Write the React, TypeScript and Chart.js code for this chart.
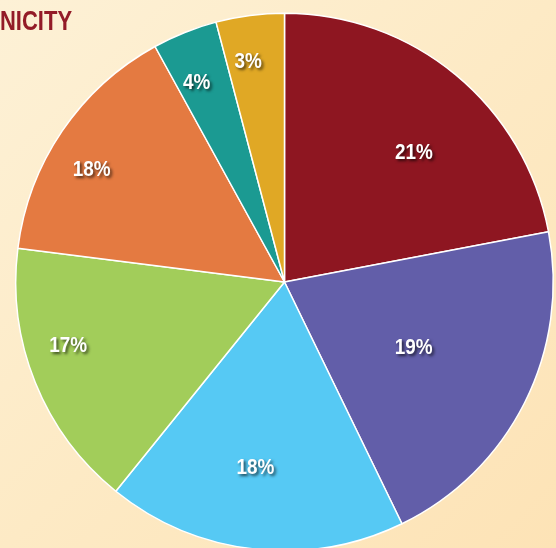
import React, { useEffect, useRef } from "react";
import { Chart, registerables } from "chart.js";

Chart.register(...registerables);

const categories = ["Group A", "Group B", "Group C", "Group D", "Group E", "Group F", "Group G"];
const sliceValues = [22.0, 20.8, 18.0, 16.2, 15.0, 3.9, 4.1];
const sliceLabels = ["21%", "19%", "18%", "17%", "18%", "4%", "3%"];
const sliceColors = ["#8e1621", "#625ea9", "#56c9f4", "#a2cd5a", "#e47a41", "#1b9a92", "#e0a825"];
const titleText = "NICITY";

// label placement style: radial fraction and angular offset (deg)
const labelRadius = [0.68, 0.54, 0.7, 0.84, 0.83, 0.81, 0.83];
const labelAngleOffset = [5.5, 0.5, 2.4, 5.4, -4, -2, -2];

const labelPlugin = {
  id: "sliceLabels",
  afterDatasetsDraw(chart: any) {
    const ctx = chart.ctx;
    const meta = chart.getDatasetMeta(0);
    ctx.save();
    ctx.font = "bold 21.5px 'Liberation Sans', Arial, sans-serif";
    ctx.textAlign = "center";
    ctx.textBaseline = "middle";
    meta.data.forEach((arc: any, i: number) => {
      const p = arc.getProps(["x", "y", "startAngle", "endAngle", "outerRadius"], true);
      const a = (p.startAngle + p.endAngle) / 2 + (labelAngleOffset[i] * Math.PI) / 180;
      const r = p.outerRadius * labelRadius[i];
      const x = p.x + Math.cos(a) * r;
      const y = p.y + Math.sin(a) * r;
      ctx.save();
      ctx.translate(x, y);
      ctx.scale(0.88, 1);
      ctx.shadowColor = "rgba(0,0,0,0.65)";
      ctx.shadowOffsetX = 2;
      ctx.shadowOffsetY = 2;
      ctx.shadowBlur = 3;
      ctx.fillStyle = "#ffffff";
      ctx.fillText(sliceLabels[i], 0, 0);
      ctx.restore();
    });
    ctx.restore();
  },
};

export default function App() {
  const ref = useRef<HTMLCanvasElement>(null);
  useEffect(() => {
    if (!ref.current) return;
    const chart = new Chart(ref.current, {
      type: "pie",
      data: {
        labels: categories,
        datasets: [
          {
            data: sliceValues,
            backgroundColor: sliceColors,
            borderColor: "#ffffff",
            borderWidth: 1.5,
          },
        ],
      },
      options: {
        responsive: false,
        maintainAspectRatio: false,
        animation: false,
        devicePixelRatio: 1,
        layout: { padding: { left: 15, top: 12.5, right: 16, bottom: 18.5 } },
        plugins: {
          legend: { display: false },
          tooltip: { enabled: false },
          title: { display: false },
        },
      },
      plugins: [labelPlugin],
    });
    return () => chart.destroy();
  }, []);

  return (
    <div
      style={{
        position: "absolute",
        left: 0,
        top: 0,
        width: 556,
        height: 548,
        overflow: "hidden",
        background: "linear-gradient(135deg, #fdf1d6 0%, #fdeac5 50%, #fde3b6 100%)",
      }}
    >
      <canvas
        ref={ref}
        width={570}
        height={570}
        style={{ position: "absolute", left: 0, top: 0, width: 570, height: 570 }}
      />
      <div
        style={{
          position: "absolute",
          left: 0,
          top: 7,
          fontFamily: "'Liberation Sans', Arial, sans-serif",
          fontWeight: "bold",
          fontSize: 28,
          lineHeight: "28px",
          color: "#931b27",
          whiteSpace: "nowrap",
          transform: "scaleX(0.785)",
          transformOrigin: "left top",
        }}
      >
        {titleText}
      </div>
    </div>
  );
}
